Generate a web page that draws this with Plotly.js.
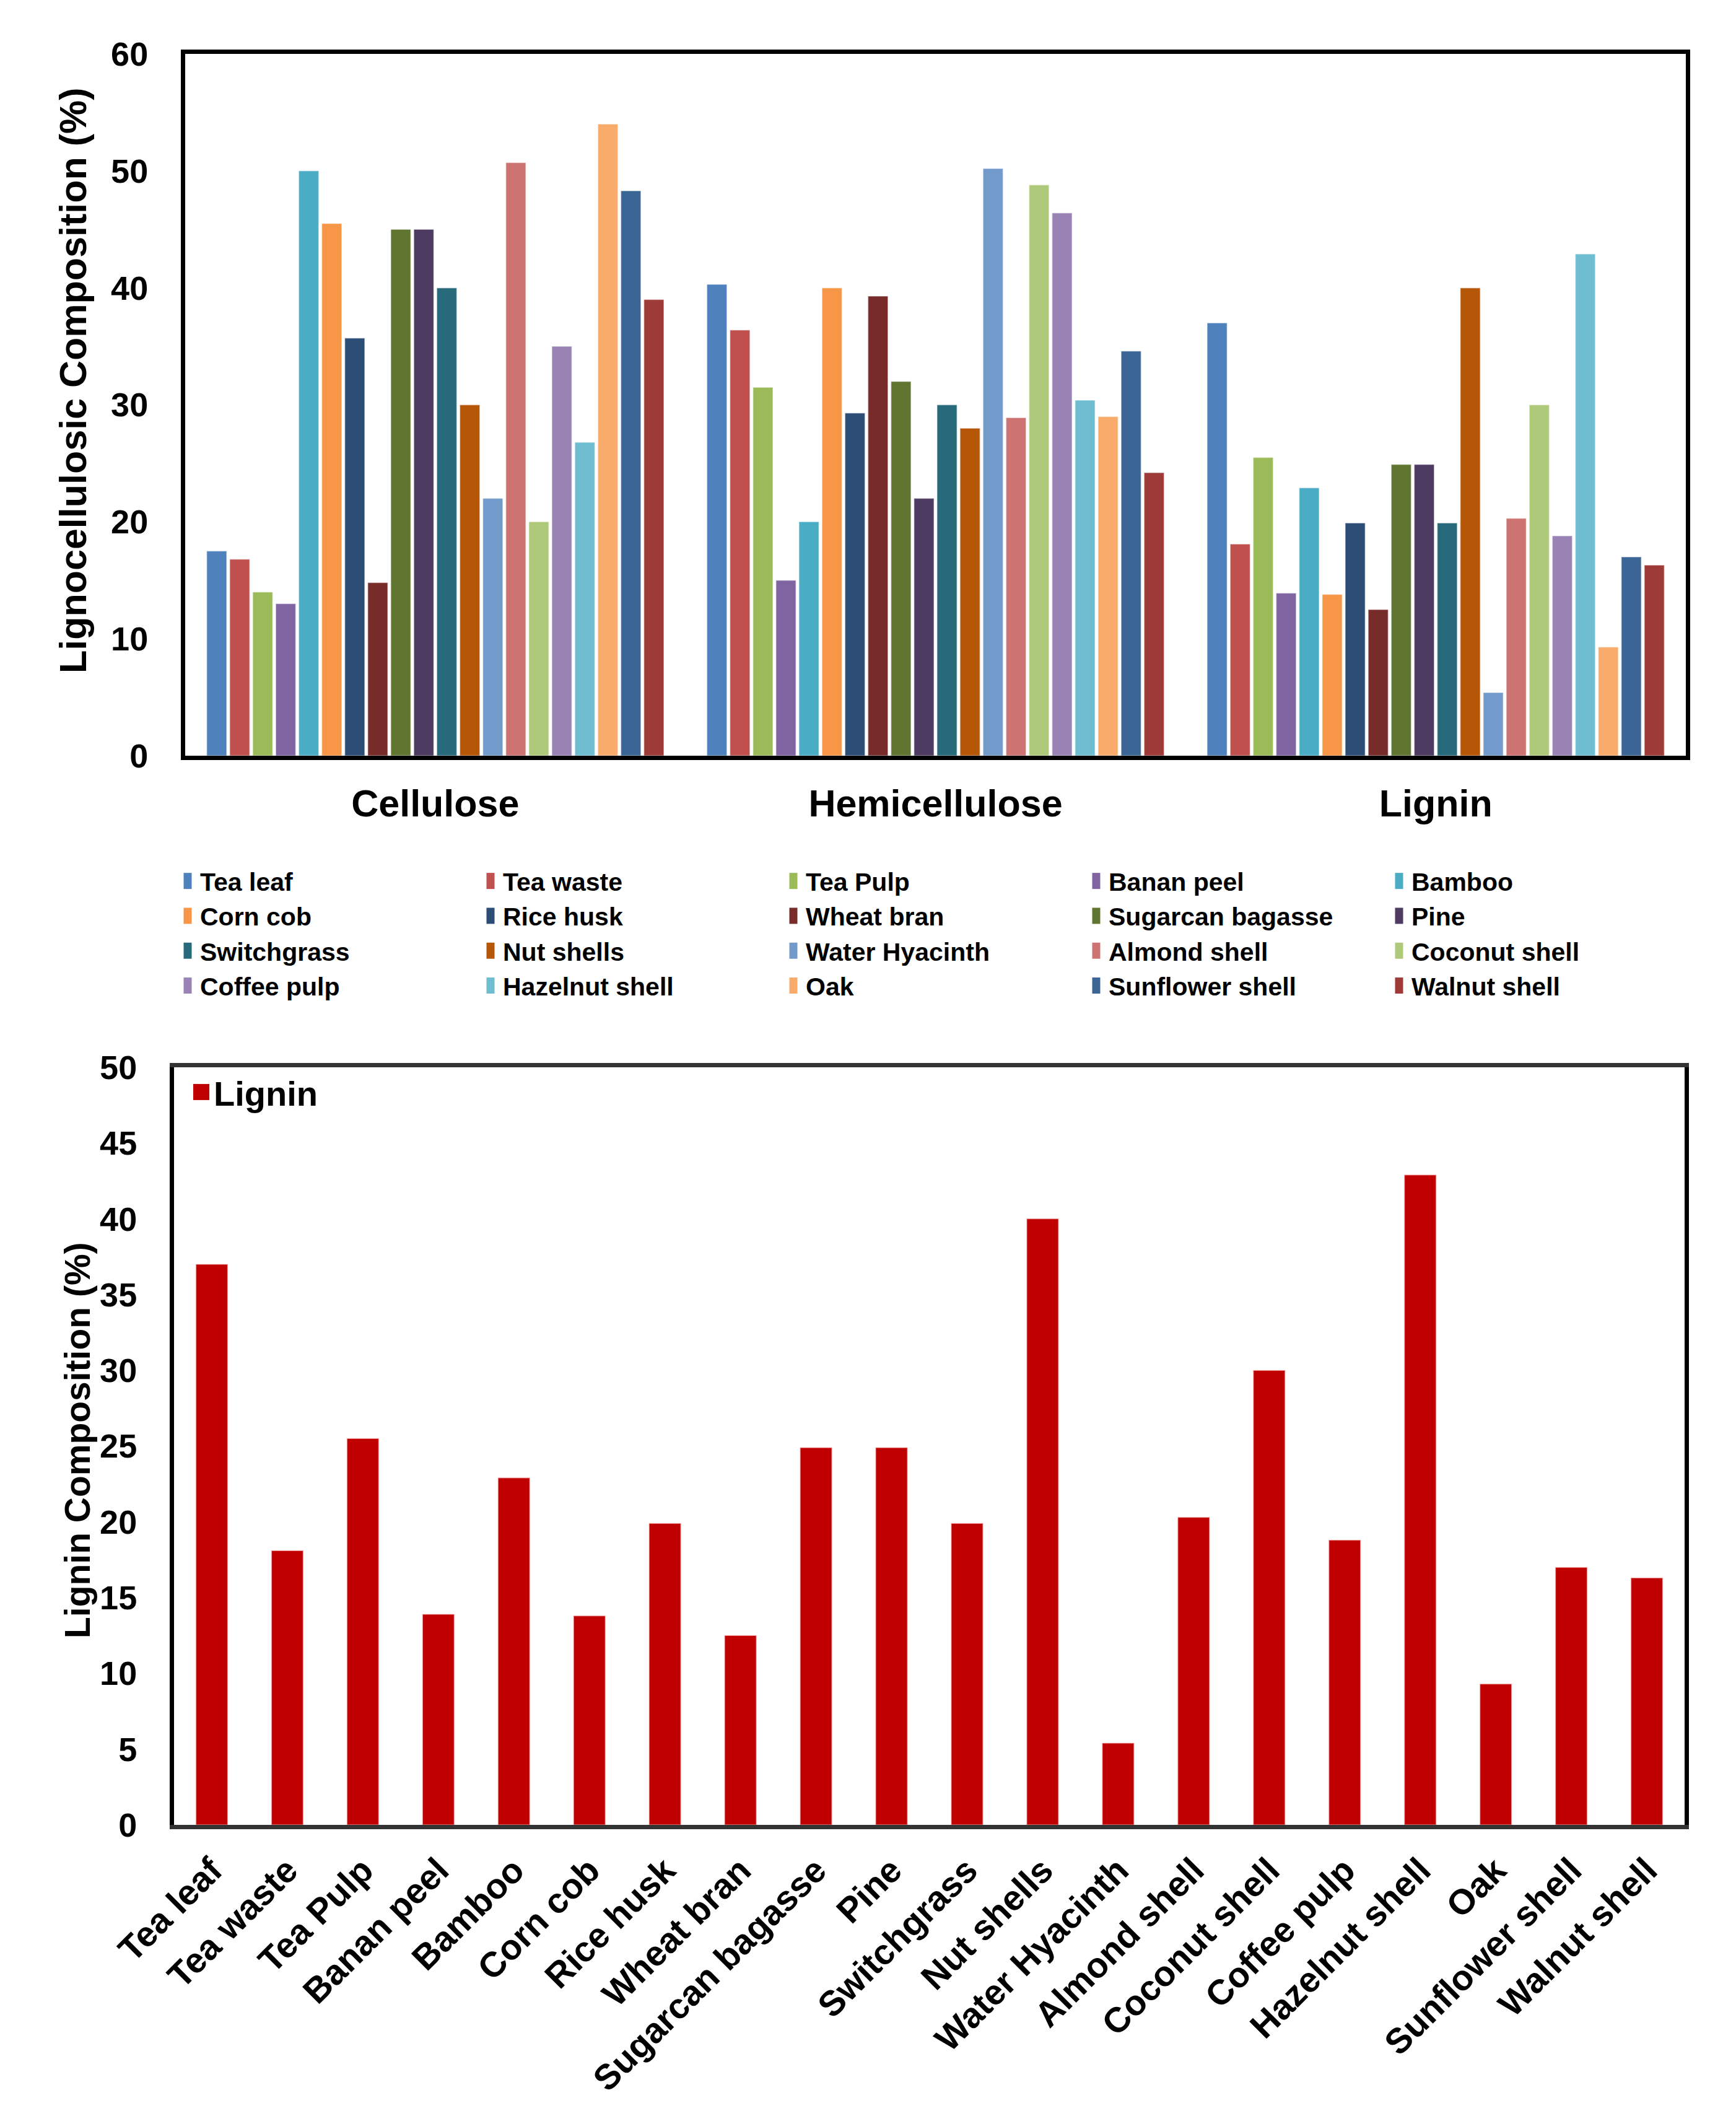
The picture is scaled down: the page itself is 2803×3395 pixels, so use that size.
<!DOCTYPE html>
<html><head><meta charset="utf-8">
<script src="https://cdn.plot.ly/plotly-3.0.1.min.js"></script>
<style>html,body{margin:0;padding:0;background:#fff}</style>
</head><body><div id="chart" style="width:2803px;height:3395px"></div>
<script>
const components = ["Cellulose", "Hemicellulose", "Lignin"];
const materials = ["Tea leaf", "Tea waste", "Tea Pulp", "Banan peel", "Bamboo", "Corn cob", "Rice husk", "Wheat bran", "Sugarcan bagasse", "Pine", "Switchgrass", "Nut shells", "Water Hyacinth", "Almond shell", "Coconut shell", "Coffee pulp", "Hazelnut shell", "Oak", "Sunflower shell", "Walnut shell"];
const cellulose = [17.5, 16.8, 14, 13, 50, 45.5, 35.7, 14.8, 45, 45, 40, 30, 22, 50.7, 20, 35, 26.8, 54, 48.3, 39];
const hemicellulose = [40.3, 36.4, 31.5, 15, 20, 40, 29.3, 39.3, 32, 22, 30, 28, 50.2, 28.9, 48.8, 46.4, 30.4, 29, 34.6, 24.2];
const lignin = [37, 18.1, 25.5, 13.9, 22.9, 13.8, 19.9, 12.5, 24.9, 24.9, 19.9, 40, 5.4, 20.3, 30, 18.8, 42.9, 9.3, 17, 16.3];
const colors = ["#4F81BD", "#C0504D", "#9BBB59", "#8064A2", "#4BACC6", "#F79646", "#2C4D75", "#772C2A", "#5F7530", "#4D3B62", "#276A7C", "#B65708", "#729ACA", "#CD7371", "#AFC97A", "#9983B5", "#6FBDD1", "#F9AB6B", "#3A6595", "#9E3B38"];
const ligninColor = "#C00000";
const topTitle = "Lignocellulosic Composition (%)";
const bottomTitle = "Lignin Composition (%)";

const W = 2803, H = 3395, ML = 200, MR = 40;
const GW = W - ML - MR;
const px = v => (v - ML) / GW;
const py = v => 1 - v / H;

const traces = materials.map((m, i) => ({
  type: 'bar', name: m, x: components,
  y: [cellulose[i], hemicellulose[i], lignin[i]],
  marker: {color: colors[i], line: {color: 'rgba(255,255,255,0.5)', width: 1.5}},
  xaxis: 'x', yaxis: 'y', legend: 'legend', hoverinfo: 'skip'
}));
traces.push({
  type: 'bar', name: 'Lignin', x: materials, y: lignin, width: 0.42,
  marker: {color: ligninColor, line: {color: 'rgba(255,200,200,0.6)', width: 1.5}},
  xaxis: 'x2', yaxis: 'y2', legend: 'legend2', hoverinfo: 'skip'
});

const axLine = {showline: true, mirror: true, linewidth: 7, linecolor: '#000', showgrid: false, zeroline: false, ticks: '', fixedrange: true};
const fam = 'Liberation Sans, Arial, sans-serif';

const layout = {
  width: W, height: H,
  margin: {l: ML, r: MR, t: 0, b: 0},
  paper_bgcolor: '#fff', plot_bgcolor: '#fff',
  barmode: 'group', bargap: 0.08, bargroupgap: 0.13,
  font: {family: fam, weight: 'bold', color: '#000'},
  xaxis: Object.assign({}, axLine, {domain: [px(299), px(2722)], anchor: 'y', tickfont: {size: 61, family: fam, weight: 'bold'}, ticklabelstandoff: 18}),
  yaxis: Object.assign({}, axLine, {domain: [py(1220), py(87)], anchor: 'x', range: [0, 60], dtick: 10, tickfont: {size: 54, family: fam, weight: 'bold'}, ticklabelstandoff: 42}),
  xaxis2: Object.assign({}, axLine, {domain: [px(281), px(2720)], anchor: 'y2', linecolor: '#333', tickangle: -45, tickfont: {size: 57, family: fam, weight: 'bold'}, ticklabelstandoff: 10, range: [-0.5, 19.5]}),
  yaxis2: Object.assign({}, axLine, {domain: [py(2946), py(1723)], anchor: 'x2', range: [0, 50], dtick: 5, tickfont: {size: 54, family: fam, weight: 'bold'}, ticklabelstandoff: 42}),
  annotations: [
    {text: topTitle, textangle: -90, xref: 'paper', yref: 'paper', x: px(118), y: py(614), xanchor: 'center', yanchor: 'middle', showarrow: false, font: {size: 61, family: fam, weight: 'bold', color: '#000'}},
    {text: bottomTitle, textangle: -90, xref: 'paper', yref: 'paper', x: px(125), y: py(2325), xanchor: 'center', yanchor: 'middle', showarrow: false, font: {size: 57, family: fam, weight: 'bold', color: '#000'}}
  ],
  legend: {orientation: 'h', x: px(283), y: py(1389), xanchor: 'left', yanchor: 'top', entrywidth: 444, entrywidthmode: 'pixels', font: {size: 41, family: fam, weight: 'bold'}, bgcolor: 'rgba(0,0,0,0)'},
  legend2: {x: px(305), y: py(1720), xanchor: 'left', yanchor: 'top', font: {size: 56, family: fam, weight: 'bold'}, bgcolor: 'rgba(0,0,0,0)'},
  showlegend: true
};

function resizeSymbols() {
  const gd = document.getElementById('chart');
  gd.querySelectorAll('g.legend .legendpoints path').forEach(p => { p.setAttribute('d', 'M6.5,13H-6.5V-13H6.5Z'); p.style.strokeWidth = '0px'; });
  gd.querySelectorAll('g.legend2 .legendpoints path').forEach(p => { p.setAttribute('d', 'M13,13H-13V-13H13Z'); p.style.strokeWidth = '0px'; });
}

Plotly.newPlot('chart', traces, layout, {staticPlot: true, displayModeBar: false}).then(resizeSymbols);
</script>
</body></html>
